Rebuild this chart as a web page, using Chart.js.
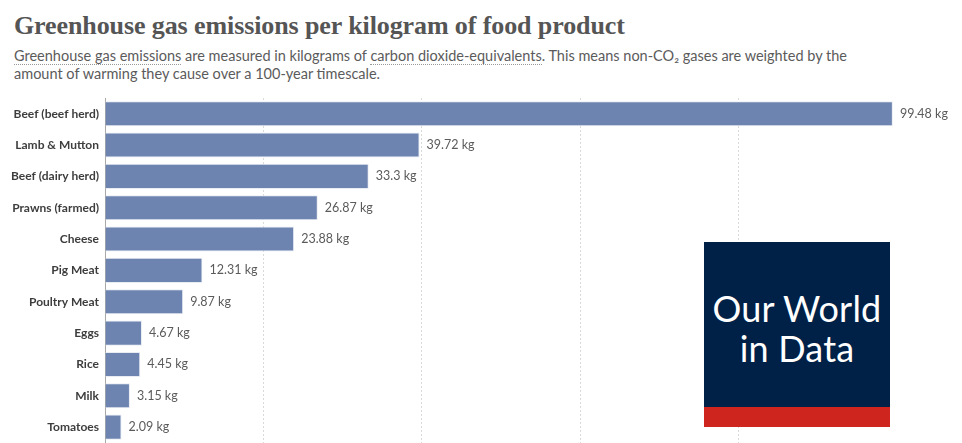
<!DOCTYPE html>
<html>
<head>
<meta charset="utf-8">
<script src="https://cdn.jsdelivr.net/npm/chart.js@4"></script>
<style>
  html, body { margin: 0; padding: 0; background: #fff; }
  body { width: 962px; height: 443px; overflow: hidden; position: relative; font-family: Lato, sans-serif; }
  #title { position: absolute; left: 14px; top: 11px; font-family: "Liberation Serif", serif; font-weight: bold; font-size: 26px; color: #555; white-space: nowrap; letter-spacing: -0.1px; }
  #subtitle { position: absolute; left: 14px; top: 47px; font-size: 14.5px; line-height: 17.5px; color: #5b5b5b; width: 840px; }
  #subtitle span { border-bottom: 1px dotted #999; }
  #wrap { position: absolute; left: 0; top: 0; width: 962px; height: 456px; }
  #logo { position: absolute; left: 704px; top: 242px; width: 186px; height: 185px; background: #002147; }
  #logo .red { position: absolute; left: 0; bottom: 0; width: 100%; height: 20px; background: #ce261e; }
  #logo .txt { position: absolute; left: 0; top: 46px; width: 100%; text-align: center; color: #fff; font-size: 36px; line-height: 40px; letter-spacing: 0.2px; }
</style>
</head>
<body>
<div id="title">Greenhouse gas emissions per kilogram of food product</div>
<div id="subtitle"><span>Greenhouse gas emissions</span> are measured in kilograms of <span>carbon dioxide-equivalents</span>. This means non-CO₂ gases are weighted by the amount of warming they cause over a 100-year timescale.</div>
<div id="wrap"><canvas id="chart"></canvas></div>
<div id="logo"><div class="txt">Our World<br>in Data</div><div class="red"></div></div>
<script>
const CHART = document.getElementById("chart");

const foods = [
  "Beef (beef herd)",
  "Lamb & Mutton",
  "Beef (dairy herd)",
  "Prawns (farmed)",
  "Cheese",
  "Pig Meat",
  "Poultry Meat",
  "Eggs",
  "Rice",
  "Milk",
  "Tomatoes",
];
const emissions = [99.48, 39.72, 33.3, 26.87, 23.88, 12.31, 9.87, 4.67, 4.45, 3.15, 2.09];
const gridTicks = [0, 20, 40, 60, 80, 100];

// value labels at the end of each bar
const valueLabels = {
  id: "valueLabels",
  afterDatasetsDraw(chart) {
    const ctx = chart.ctx;
    const meta = chart.getDatasetMeta(0);
    ctx.save();
    ctx.font = "12.5px Lato";
    ctx.fillStyle = "#5b5b5b";
    ctx.textBaseline = "middle";
    meta.data.forEach((bar, i) => {
      ctx.fillText(emissions[i] + " kg", bar.x + 7, bar.y);
    });
    ctx.restore();
  },
};

let barChart = new Chart(CHART, {
  type: "bar",
  data: {
    labels: foods,
    datasets: [
      {
        data: emissions,
        backgroundColor: "#6d84b0",
        borderColor: "#e8ecf3",
        borderWidth: { right: 1, top: 1, bottom: 1 },
        barPercentage: 0.8,
        categoryPercentage: 1,
      },
    ],
  },
  plugins: [valueLabels],
  options: {
    responsive: true,
    maintainAspectRatio: false,
    animation: false,
    indexAxis: "y",
    layout: { padding: { top: 98, right: 65, bottom: 0, left: 0 } },
    plugins: { legend: { display: false }, tooltip: { enabled: false } },
    scales: {
      x: {
        min: 0,
        max: 100,
        afterBuildTicks(axis) {
          axis.ticks = gridTicks.map((v) => ({ value: v }));
        },
        afterFit(axis) {
          axis.height = 0;
        },
        ticks: { display: false },
        grid: {
          drawTicks: false,
          color: (c) => (c.tick && c.tick.value > 0 && c.tick.value < 100 ? "#d9d9d9" : "rgba(0,0,0,0)"),
          lineWidth: 1,
        },
        border: { display: false, dash: [2, 2] },
      },
      y: {
        afterFit(axis) {
          axis.width = 105;
        },
        grid: { display: false, drawTicks: false },
        border: { display: true, color: "#a8a8a8", width: 1 },
        ticks: {
          color: "#3d3d3d",
          padding: 6,
          font: { family: "Lato", size: 12, weight: "bold" },
        },
      },
    },
  },
});
</script>
</body>
</html>
